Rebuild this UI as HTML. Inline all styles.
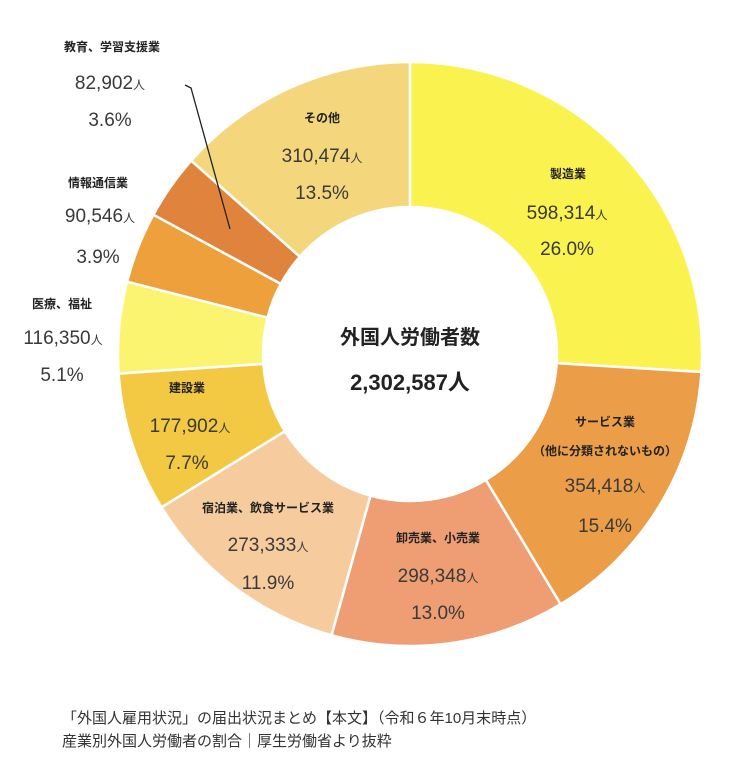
<!DOCTYPE html>
<html><head><meta charset="utf-8"><style>
html,body{margin:0;padding:0;background:#fff;}
svg{display:block}
text{font-family:"Liberation Sans","Noto Sans CJK JP",sans-serif;fill:#3a3a3a;}
.b{font-weight:bold;font-size:12px;fill:#222}
.n{font-size:19px}
.s{font-size:12px}
</style></head><body>
<svg id="c" width="734" height="766" viewBox="0 0 734 766">
<g id="segs"></g>
<polyline points="185,85 191,88 230,229" fill="none" stroke="#222" stroke-width="1.3"/>
<g text-anchor="middle">
<text x="112" y="51" class="b">教育、学習支援業</text>
<text x="110" y="89" class="n">82,902<tspan class="s">人</tspan></text>
<text x="110" y="126" class="n">3.6%</text>
<text x="98" y="187" class="b">情報通信業</text>
<text x="100" y="222" class="n">90,546<tspan class="s">人</tspan></text>
<text x="98" y="263" class="n">3.9%</text>
<text x="62" y="308" class="b">医療、福祉</text>
<text x="63" y="344" class="n">116,350<tspan class="s">人</tspan></text>
<text x="62" y="381" class="n">5.1%</text>
<text x="187" y="392" class="b">建設業</text>
<text x="190" y="432" class="n">177,902<tspan class="s">人</tspan></text>
<text x="187" y="469" class="n">7.7%</text>
<text x="268" y="512" class="b">宿泊業、飲食サービス業</text>
<text x="268" y="551" class="n">273,333<tspan class="s">人</tspan></text>
<text x="268" y="589" class="n">11.9%</text>
<text x="438" y="542" class="b">卸売業、小売業</text>
<text x="438" y="582" class="n">298,348<tspan class="s">人</tspan></text>
<text x="438" y="619" class="n">13.0%</text>
<text x="605" y="426" class="b">サービス業</text>
<text x="605" y="455" class="b">（他に分類されないもの）</text>
<text x="605" y="492" class="n">354,418<tspan class="s">人</tspan></text>
<text x="605" y="532" class="n">15.4%</text>
<text x="568" y="178" class="b">製造業</text>
<text x="567" y="219" class="n">598,314<tspan class="s">人</tspan></text>
<text x="567" y="255" class="n">26.0%</text>
<text x="322" y="122" class="b">その他</text>
<text x="322" y="162" class="n">310,474<tspan class="s">人</tspan></text>
<text x="322" y="199" class="n">13.5%</text>
<text x="410" y="344" style="font-size:20px;font-weight:bold;fill:#222">外国人労働者数</text>
<text x="410" y="390" style="font-size:22px;font-weight:bold;fill:#222">2,302,587人</text>
</g>
<text x="62" y="723" style="font-size:15px;fill:#333">「外国人雇用状況」の届出状況まとめ【本文】（令和６年10月末時点）</text>
<text x="62" y="746" style="font-size:15px;fill:#333">産業別外国人労働者の割合｜厚生労働省より抜粋</text>
</svg>
<script>
var d=[[598314,"#FAF24E"],[354418,"#EC9D48"],[298348,"#EE9E72"],[273333,"#F6CC9E"],[177902,"#F3C842"],[116350,"#FBF470"],[90546,"#EDA03C"],[82902,"#E0843D"],[310474,"#F4D77C"]];
var tot=d.reduce(function(a,b){return a+b[0]},0),cx=410,cy=354,R=292,r=147,a=0,h="";
function p(rad,ang){return (cx+rad*Math.sin(ang)).toFixed(2)+","+(cy-rad*Math.cos(ang)).toFixed(2);}
d.forEach(function(e){var a1=a+e[0]/tot*2*Math.PI,l=(a1-a)>Math.PI?1:0;
h+='<path d="M'+p(R,a)+' A'+R+','+R+' 0 '+l+' 1 '+p(R,a1)+' L'+p(r,a1)+' A'+r+','+r+' 0 '+l+' 0 '+p(r,a)+' Z" fill="'+e[1]+'" stroke="#fff" stroke-width="2.5"/>';a=a1;});
document.getElementById("segs").innerHTML=h;
</script>
</body></html>
